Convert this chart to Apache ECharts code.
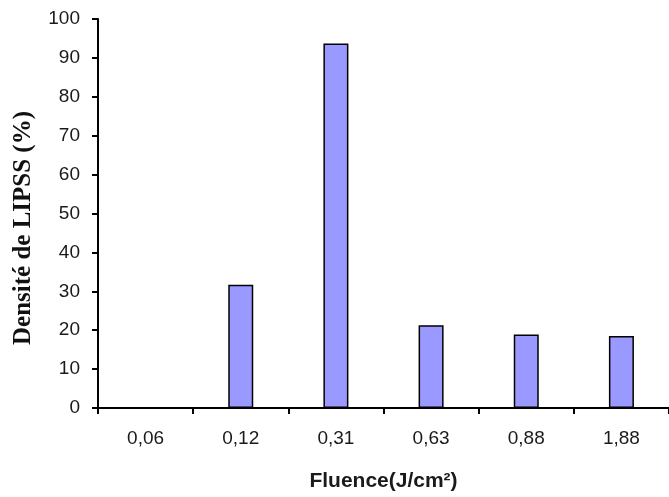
<!DOCTYPE html>
<html>
<head>
<meta charset="utf-8">
<script src="https://cdn.jsdelivr.net/npm/echarts@6/dist/echarts.min.js"></script>
<style>html,body{margin:0;padding:0;background:#fff}#c{width:669px;height:497px}</style>
</head>
<body>
<div id="c"></div>
<script>
const categories = ['0,06', '0,12', '0,31', '0,63', '0,88', '1,88'];
const densite = [0, 31.7, 93.7, 21.3, 18.9, 18.5];
const yTicks = [0, 10, 20, 30, 40, 50, 60, 70, 80, 90, 100];

const chart = echarts.init(document.getElementById('c'), null, {renderer: 'canvas'});
chart.setOption({
  animation: false,
  backgroundColor: '#ffffff',
  grid: {left: 98, top: 19, width: 579, height: 394, containLabel: false},
  xAxis: {
    type: 'category',
    data: categories,
    boundaryGap: true,
    axisLine: {lineStyle: {color: '#000', width: 2}},
    axisTick: {show: true, length: 6, alignWithLabel: false, lineStyle: {color: '#000', width: 2}},
    axisLabel: {margin: 21, fontFamily: 'Liberation Sans, Arial', fontSize: 19, color: '#1a1a1a'},
    name: 'Fluence(J/cm²)',
    nameLocation: 'middle',
    nameGap: 63,
    nameTextStyle: {fontFamily: 'Liberation Sans, Arial', fontWeight: 'bold', fontSize: 21, color: '#1a1a1a'}
  },
  yAxis: {
    type: 'value',
    min: yTicks[0],
    max: yTicks[yTicks.length - 1],
    interval: 10,
    splitLine: {show: false},
    axisLine: {show: true, lineStyle: {color: '#000', width: 2}},
    axisTick: {show: true, length: 6, lineStyle: {color: '#000', width: 2}},
    axisLabel: {margin: 18, fontFamily: 'Liberation Sans, Arial', fontSize: 19, color: '#1a1a1a'}
  },
  graphic: [{
    type: 'text',
    x: 24,
    y: 228,
    rotation: Math.PI / 2,
    style: {
      text: 'Densité de LIPSS (%)',
      fontFamily: 'Liberation Serif, Times New Roman',
      fontWeight: 'bold',
      fontSize: 25,
      fill: '#111',
      align: 'center',
      verticalAlign: 'middle'
    }
  }],
  series: [{
    type: 'bar',
    data: densite,
    barWidth: 25,
    itemStyle: {color: '#9999ff', borderColor: '#000', borderWidth: 1.5}
  }]
});
</script>
</body>
</html>
